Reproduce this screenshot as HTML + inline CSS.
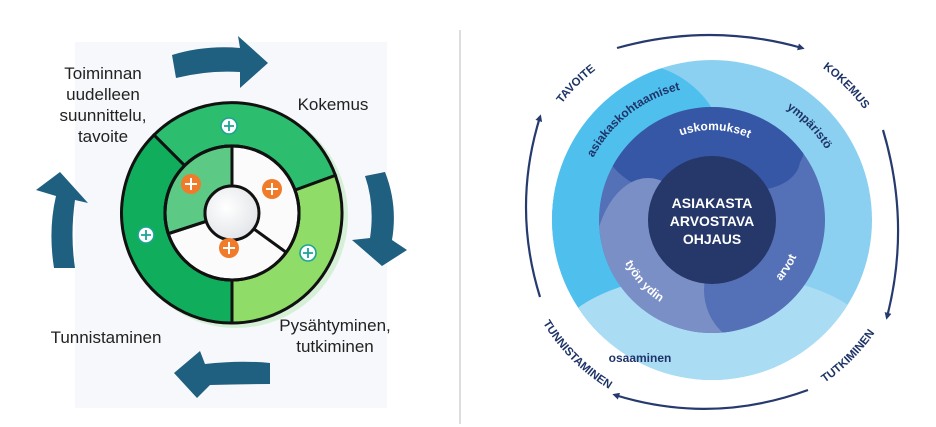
<!DOCTYPE html>
<html><head><meta charset="utf-8"><style>
html,body{margin:0;padding:0;background:#fff;}
svg{display:block;font-family:"Liberation Sans",sans-serif;}
</style></head><body>
<svg width="936" height="427" viewBox="0 0 936 427" xmlns="http://www.w3.org/2000/svg">
<defs>
<clipPath id="disk"><circle cx="712" cy="220" r="160"/></clipPath>
<clipPath id="mid"><circle cx="712" cy="220" r="113"/></clipPath>
<marker id="ah" viewBox="0 0 10 10" refX="6" refY="5" markerWidth="7" markerHeight="7" orient="auto" markerUnits="userSpaceOnUse"><path d="M0,0 L10,5 L0,10 Z" fill="#263a6e"/></marker>
<radialGradient id="cg" cx="0.4" cy="0.4" r="0.7"><stop offset="0" stop-color="#ffffff"/><stop offset="1" stop-color="#dfe2e6"/></radialGradient>
<path id="p1" d="M580,196.7 A134,134 0 0 1 721.3,86.3"/>
<path id="p2" d="M757.8,94.1 A134,134 0 0 1 839.4,178.6"/>
<path id="p3" d="M654.1,151.1 A90,90 0 0 1 774.5,155.3"/>
<path id="p4" d="M615.4,228.5 A97,97 0 0 0 693.5,315.2"/>
<path id="p5" d="M758,299.7 A92,92 0 0 0 803.7,228"/>
<path id="p6" d="M528.5,170.8 A190,190 0 0 1 662.8,36.5"/>
<path id="p7" d="M760.7,38.4 A188,188 0 0 1 893.6,171.3"/>
<path id="p8" d="M729.3,417.3 A198,198 0 0 0 909.2,237.3"/>
<path id="p9" d="M514,220 A198,198 0 0 0 712,418"/>
</defs>

<!-- LEFT -->
<rect x="75" y="42" width="312" height="366" fill="#f7f8fb"/>
<circle cx="236" cy="216" r="112" fill="#c8ecc8" opacity="0.7"/>
<path d="M154,135 A110,110 0 0 1 335.4,175.4 L295,190.1 A67,67 0 0 0 184.6,165.6 Z" fill="#2dbd6e" stroke="#111" stroke-width="3"/>
<path d="M335.4,175.4 A110,110 0 0 1 232,323 L232,280 A67,67 0 0 0 295,190.1 Z" fill="#8fdc68" stroke="#111" stroke-width="3"/>
<path d="M232,323 A110,110 0 0 1 154,135 L184.6,165.6 A67,67 0 0 0 232,280 Z" fill="#10ae5c" stroke="#111" stroke-width="3"/>
<circle cx="232" cy="213" r="67" fill="#fbfbfb" stroke="#111" stroke-width="3"/>
<path d="M168.3,233.7 A67,67 0 0 1 232,146 L232,186 A27,27 0 0 0 206.3,221.3 Z" fill="#5cc985" stroke="#111" stroke-width="3"/>
<line x1="232" y1="146" x2="232" y2="186" stroke="#111" stroke-width="3"/>
<line x1="286.2" y1="252.4" x2="253.8" y2="228.9" stroke="#111" stroke-width="3"/>
<line x1="168.3" y1="233.7" x2="206.3" y2="221.3" stroke="#111" stroke-width="3"/>
<circle cx="232" cy="213" r="67" fill="none" stroke="#111" stroke-width="3"/>
<circle cx="232" cy="213" r="27" fill="url(#cg)" stroke="#111" stroke-width="3"/>
<g stroke="#1aa596" stroke-width="1.6" fill="#fff">
<circle cx="229" cy="126" r="8"/><circle cx="146" cy="235" r="8"/><circle cx="308" cy="253" r="8"/></g>
<g stroke="#1aa596" stroke-width="1.8"><path d="M224,126 h10 M229,121 v10 M141,235 h10 M146,230 v10 M303,253 h10 M308,248 v10"/></g>
<g fill="#f07b2a"><circle cx="191" cy="184" r="10"/><circle cx="272" cy="189" r="10"/><circle cx="229" cy="248" r="10"/></g>
<g stroke="#fff" stroke-width="2"><path d="M185,184 h12 M191,178 v12 M266,189 h12 M272,183 v12 M223,248 h12 M229,242 v12"/></g>
<g fill="#1f5f80">
<path d="M172,55 Q205,45 240,48 L238,36 L268,63 L240,88 L240,72 Q208,70 176,78 Z"/>
<path d="M365,176 L385,172 Q398,205 392,240 L407,250 L382,266 L352,240 L370,238 Q375,205 365,176 Z"/>
<path d="M270,363 L270,384 Q240,384 210,385 L197,398 L174,373 L200,351 L205,364 Q240,360 270,363 Z"/>
<path d="M54,268 Q48,230 56,196 L36,190 L60,172 L88,203 L75,200 Q70,235 75,268 Z"/>
</g>
<g font-size="17" fill="#222" text-anchor="middle">
<text x="103" y="79">Toiminnan</text><text x="103" y="100">uudelleen</text><text x="103" y="121">suunnittelu,</text><text x="103" y="142">tavoite</text>
<text x="333" y="110">Kokemus</text>
<text x="106" y="343">Tunnistaminen</text>
<text x="335" y="331">Pysähtyminen,</text><text x="335" y="352">tutkiminen</text>
</g>

<line x1="460" y1="30" x2="460" y2="424" stroke="#bbb" stroke-width="1"/>

<!-- RIGHT -->
<g clip-path="url(#disk)">
<rect x="540" y="50" width="340" height="340" fill="#8bd0f1"/>
<circle cx="630" cy="160" r="97" fill="#4fbfee"/>
<ellipse cx="595" cy="250" rx="60" ry="85" fill="#4fbfee"/>
<ellipse cx="715" cy="345" rx="160" ry="72" fill="#aadcf4"/>
</g>
<g clip-path="url(#mid)">
<rect x="590" y="100" width="250" height="250" fill="#5470b6"/>
<ellipse cx="705" cy="145" rx="100" ry="55" fill="#3657a6"/>
<ellipse cx="755" cy="160" rx="45" ry="30" fill="#3657a6"/>
<ellipse cx="648" cy="268" rx="55" ry="90" fill="#7b8fc7"/>
<ellipse cx="690" cy="305" rx="62" ry="32" fill="#7b8fc7"/>
<circle cx="762" cy="290" r="58" fill="#5470b6"/>
</g>
<circle cx="712" cy="220" r="64" fill="#253869"/>
<g font-size="14" font-weight="bold" fill="#fff" text-anchor="middle">
<text x="712" y="208">ASIAKASTA</text><text x="712" y="226">ARVOSTAVA</text><text x="712" y="244">OHJAUS</text></g>
<g font-size="12" font-weight="bold" text-anchor="middle">
<text fill="#1e3468"><textPath href="#p1" startOffset="50%">asiakaskohtaamiset</textPath></text>
<text fill="#1e3468"><textPath href="#p2" startOffset="50%">ympäristö</textPath></text>
<text fill="#fff"><textPath href="#p3" startOffset="50%">uskomukset</textPath></text>
<text fill="#fff"><textPath href="#p4" startOffset="50%">työn ydin</textPath></text>
<text fill="#fff"><textPath href="#p5" startOffset="50%">arvot</textPath></text>
<text x="640" y="362" fill="#1e3468">osaaminen</text>
</g>
<g font-size="11.5" font-weight="bold" fill="#1e3468" text-anchor="middle">
<text><textPath href="#p6" startOffset="50%">TAVOITE</textPath></text>
<text><textPath href="#p7" startOffset="50%">KOKEMUS</textPath></text>
<text><textPath href="#p8" startOffset="50%">TUTKIMINEN</textPath></text>
<text><textPath href="#p9" startOffset="50%">TUNNISTAMINEN</textPath></text>
</g>
<g fill="none" stroke="#263a6e" stroke-width="2.2" marker-end="url(#ah)">
<path d="M617,48 Q710,22 802,48"/>
<path d="M883,130 Q911,224 887,317"/>
<path d="M808,390 Q712,425 615,395"/>
<path d="M540,297 Q512,207 540,117"/>
</g>
</svg>
</body></html>
